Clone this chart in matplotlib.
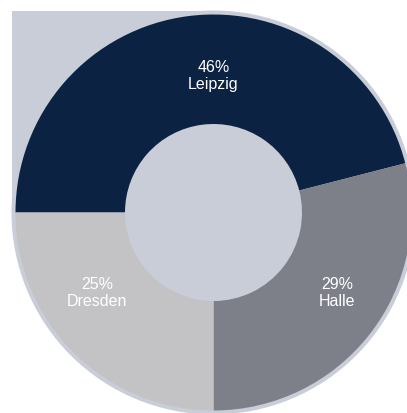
import matplotlib
matplotlib.use("Agg")
import matplotlib.pyplot as plt
from matplotlib.patches import Circle, Rectangle
import numpy as np

# share of each city, in percent
cities = ["Leipzig", "Halle", "Dresden"]
shares = [46, 29, 25]
colors = ["#0c2243", "#7e8089", "#c3c2c5"]

# where each label sits: angle in degrees, distance as a fraction of the radius
label_angles = [90, 327, 214.7]
label_dist = [0.69, 0.745, 0.715]

bg_color = "#c9cdd8"
hole = 88.5 / 198

fig = plt.figure(figsize=(4.07, 4.13), dpi=100)
ax = fig.add_axes([0, 0, 1, 1])
ax.set_xlim(-213.5 / 198, (407 - 213.5) / 198)
ax.set_ylim(-200.5 / 198, 212.5 / 198)
ax.axis("off")

# backdrop: a slightly larger disc with a square top-left corner
r_bg = 202 / 198
ax.add_patch(Circle((0, 0), r_bg, color=bg_color, zorder=0, lw=0))
ax.add_patch(Rectangle((-r_bg, 0), r_bg, r_bg, color=bg_color, zorder=0, lw=0))

wedges, _ = ax.pie(shares, colors=colors, startangle=180, counterclock=False,
                   radius=1, wedgeprops=dict(width=1 - hole, linewidth=0))
for w in wedges:
    w.set_zorder(1)

for name, val, ang, d in zip(cities, shares, label_angles, label_dist):
    a = np.deg2rad(ang)
    ax.text(d * np.cos(a), d * np.sin(a), "{}%\n{}".format(val, name),
            ha="center", va="center", color="white", fontsize=11.5,
            family="Liberation Sans", linespacing=1.15, zorder=3)

ax.set_xlim(-213.5 / 198, (407 - 213.5) / 198)
ax.set_ylim(-200.5 / 198, 212.5 / 198)
ax.set_aspect("auto")

fig.savefig("out.png", dpi=100)
